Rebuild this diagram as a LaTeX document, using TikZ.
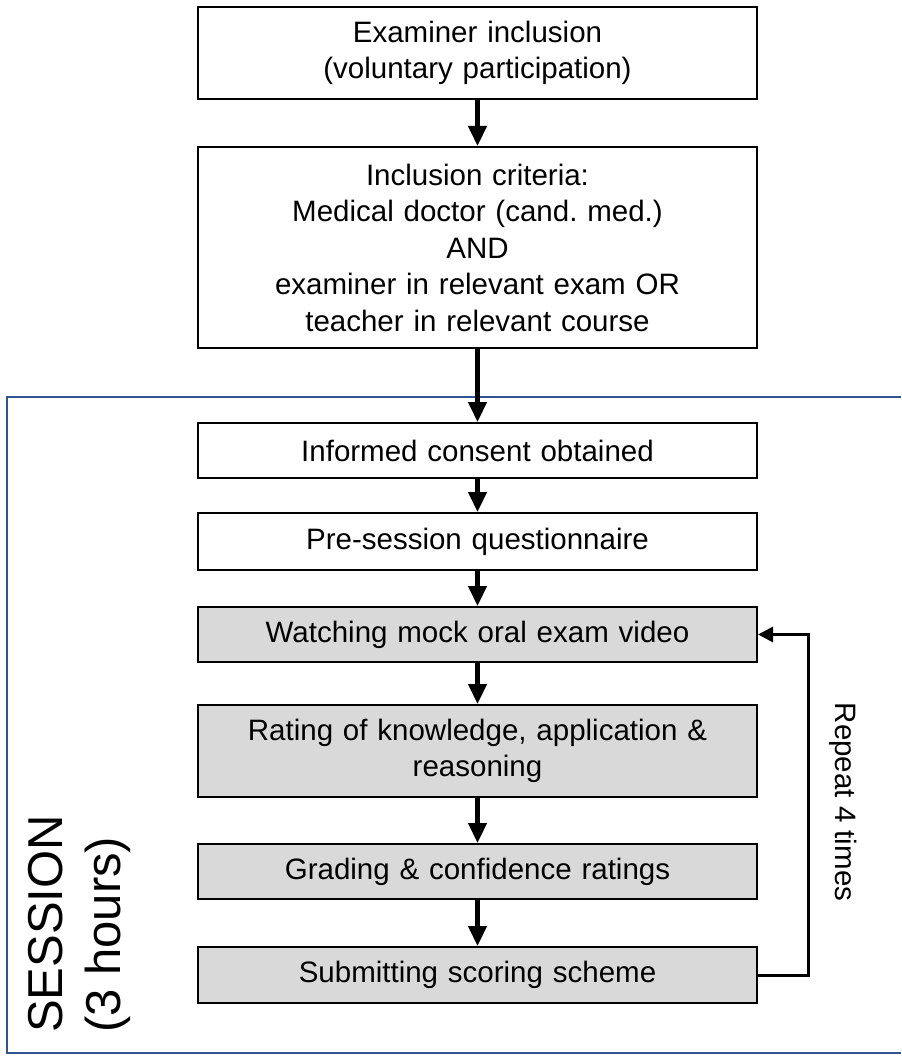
\documentclass[tikz,border=0pt]{standalone}
\usepackage{fontspec}
\setmainfont{Liberation Sans}
\usetikzlibrary{arrows.meta, positioning}
\usepackage{xcolor}
\definecolor{boxgray}{HTML}{D9D9D9}
\definecolor{sessionblue}{HTML}{2F5597}
\def\boxwidth{559pt}
\frenchspacing

\begin{document}
\begin{tikzpicture}[x=1pt, y=-1pt, font=\fontsize{29.5}{36.5}\selectfont]
    \tikzstyle{stage}=[draw=black, line width=2pt, minimum width=\boxwidth, text width=\boxwidth, inner sep=0pt, align=center]
    \tikzstyle{loop stage}=[stage, fill=boxgray]
    \tikzstyle{flow}=[-{Triangle[length=20pt,width=18pt]}, line width=4.5pt]
    \tikzstyle{repeat line}=[-{Triangle[length=15pt,width=15pt]}, line width=3pt]

    \useasboundingbox (0,0) rectangle (901,1056);

    % The session frame (open on the right)
    \draw[sessionblue, line width=2pt] (901,397) -- (7,397) -- (7,1053) -- (901,1053);

    % Recruitment
    \node[stage, minimum height=92pt] (box-1) at (477.5,53) {Examiner inclusion\\(voluntary participation)};
    \node[stage, minimum height=201pt] (box-2) at (477.5,247.5) {Inclusion criteria:\\Medical doctor (cand. med.)\\AND\\examiner in relevant exam OR\\teacher in relevant course};

    % Session steps
    \node[stage, minimum height=55pt] (box-3) at (477.5,450.5) {Informed consent obtained};
    \node[stage, minimum height=57pt] (box-4) at (477.5,541.5) {Pre-session questionnaire};
    \node[loop stage, minimum height=55pt] (box-5) at (477.5,634.5) {Watching mock oral exam video};
    \node[loop stage, minimum height=92pt] (box-6) at (477.5,751) {Rating of knowledge, application \&\\reasoning};
    \node[loop stage, minimum height=55pt] (box-7) at (477.5,871.5) {Grading \& confidence ratings};
    \node[loop stage, minimum height=56pt] (box-8) at (477.5,975) {Submitting scoring scheme};

    % Connect each step with the next one
    \foreach \source/\dest in {1/2,2/3,3/4,4/5,5/6,6/7,7/8}
        \draw[flow] (box-\source) -- (box-\dest);

    % Loop back
    \coordinate (loop-turn) at (808,975);
    \draw[repeat line] (box-8.east) -- (loop-turn) |- (box-5.east);
    \node[rotate=-90] (repeat-label) at (843,802) {Repeat 4 times};

    % Annotate the session
    \node[rotate=90, anchor=north west, align=left, inner sep=0pt, font=\fontsize{49}{58}\selectfont] (session-label) at (28,1033) {SESSION\\(3 hours)};
\end{tikzpicture}
\end{document}
